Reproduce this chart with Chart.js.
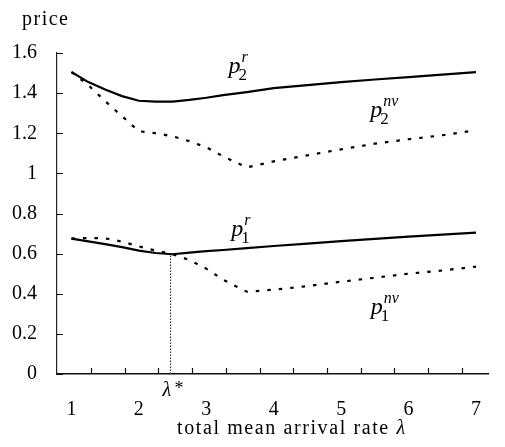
<!DOCTYPE html>
<html><head><meta charset="utf-8">
<script src="https://cdn.jsdelivr.net/npm/chart.js@4"></script>
<style>html,body{margin:0;padding:0;background:#fff}#wrap{width:505px;height:447px;position:relative}</style>
</head><body><div id="wrap"><canvas id="c"></canvas></div>
<script>
// ---- data ----
const lambdaValues = [1, 1.25, 1.5, 1.75, 2, 2.25, 2.5, 2.75, 3, 3.25, 3.6, 4, 4.5, 5, 5.5, 6, 6.5, 7];
const p2r  = [1.505, 1.455, 1.418, 1.385, 1.362, 1.358, 1.358, 1.366, 1.377, 1.39, 1.405, 1.425, 1.44, 1.455, 1.468, 1.48, 1.492, 1.505];
const p2nv = [1.505, 1.44, 1.36, 1.285, 1.21, 1.20, 1.185, 1.16, 1.13, 1.085, 1.03, 1.06, 1.09, 1.12, 1.148, 1.17, 1.19, 1.215];
const p1r  = [0.675, 0.661, 0.647, 0.632, 0.615, 0.603, 0.597, 0.605, 0.612, 0.618, 0.627, 0.638, 0.65, 0.662, 0.674, 0.685, 0.695, 0.705];
const p1nv = [0.675, 0.678, 0.676, 0.66, 0.636, 0.615, 0.597, 0.568, 0.525, 0.47, 0.41, 0.42, 0.438, 0.46, 0.48, 0.50, 0.516, 0.535];
const lambdaStar = 2.47;
const priceAtLambdaStar = 0.597;
const xTickLabels = [1, 2, 3, 4, 5, 6, 7];
const xTickMarks = [1.29, 1.79, 2.29, 2.79, 3.29, 3.79, 4.29, 4.79, 5.29, 5.79, 6.29, 6.79];
const yTickValues = [0, 0.2, 0.4, 0.6, 0.8, 1, 1.2, 1.4, 1.6];
const yTickLabels = ['0', '0.2', '0.4', '0.6', '0.8', '1', '1.2', '1.4', '1.6'];
const curveNames = [['2', 'r'], ['2', 'nv'], ['1', 'r'], ['1', 'nv']];

// ---- styling / placement ----
const labelAnchors = [[3.33, 1.50], [5.43, 1.282], [3.37, 0.687], [5.44, 0.297]];
const FONT = '"Liberation Serif", "Times New Roman", serif';
const pts = ys => lambdaValues.map((x, i) => ({x, y: ys[i]}));

const decor = {
  id: 'decor',
  afterDraw(chart) {
    const ctx = chart.ctx, xs = chart.scales.x, ys = chart.scales.y, a = chart.chartArea;
    ctx.save();
    ctx.strokeStyle = '#111'; ctx.lineWidth = 1.2;
    ctx.beginPath();
    xTickMarks.forEach(v => { const px = Math.round(xs.getPixelForValue(v)) + 0.5; ctx.moveTo(px, a.bottom); ctx.lineTo(px, a.bottom - 6); });
    yTickValues.forEach(v => { const py = Math.round(ys.getPixelForValue(v)) + 0.5; ctx.moveTo(a.left, py); ctx.lineTo(a.left + 6, py); });
    ctx.stroke();

    ctx.fillStyle = '#000';
    ctx.textBaseline = 'alphabetic';
    ctx.textAlign = 'left';
    // price
    ctx.font = '20px ' + FONT;
    ctx.letterSpacing = '1.5px';
    ctx.fillText('price', 22, 25);
    // x title
    ctx.letterSpacing = '1.6px';
    const t = 'total mean arrival rate ';
    ctx.fillText(t, 177, 434);
    const w = ctx.measureText(t).width;
    ctx.font = 'italic 20px ' + FONT;
    ctx.fillText('λ', 177 + w, 434);
    ctx.letterSpacing = '0px';
    // lambda star
    const lx = xs.getPixelForValue(lambdaStar);
    ctx.font = 'italic 20px ' + FONT;
    ctx.fillText('λ', lx - 8, 396);
    ctx.font = '18px ' + FONT;
    ctx.fillText('*', lx + 4, 394);
    // curve labels
    curveNames.forEach((nm, i) => {
      const px = xs.getPixelForValue(labelAnchors[i][0]);
      const py = ys.getPixelForValue(labelAnchors[i][1]);
      ctx.font = 'italic 24px ' + FONT;
      ctx.fillText('p', px, py);
      ctx.font = '17px ' + FONT;
      ctx.fillText(nm[0], px + 10, py + 7);
      ctx.font = 'italic 16px ' + FONT;
      ctx.fillText(nm[1], px + 13, py - 11);
    });
    ctx.restore();
  }
};

const solid = {borderColor: '#000', borderWidth: 2.2, pointRadius: 0, tension: 0, fill: false};
const dotted = {borderColor: '#000', borderWidth: 2.2, borderDash: [3.5, 8], borderCapStyle: 'butt', pointRadius: 0, tension: 0, fill: false};

new Chart(document.getElementById('c'), {
  type: 'line',
  data: {
    datasets: [
      Object.assign({label: 'p2r', data: pts(p2r)}, solid),
      Object.assign({label: 'p2nv', data: pts(p2nv)}, dotted),
      Object.assign({label: 'p1r', data: pts(p1r)}, solid),
      Object.assign({label: 'p1nv', data: pts(p1nv)}, dotted),
      {label: 'lambda*', data: [{x: lambdaStar, y: 0}, {x: lambdaStar, y: priceAtLambdaStar}], borderColor: '#333', borderWidth: 1.2, borderDash: [1.5, 1.5], pointRadius: 0, fill: false}
    ]
  },
  options: {
    responsive: true, maintainAspectRatio: false, animation: false,
    layout: {padding: {top: 53, right: 0, left: 0, bottom: 0}},
    plugins: {legend: {display: false}, tooltip: {enabled: false}},
    scales: {
      x: {
        type: 'linear', min: 0.7857, max: 7.1857,
        grid: {display: false, drawTicks: false},
        border: {display: true, color: '#111', width: 1.5},
        ticks: {font: {family: FONT, size: 20}, color: '#000', padding: 24, maxRotation: 0, autoSkip: false},
        afterBuildTicks: s => { s.ticks = xTickLabels.map(v => ({value: v})); },
        afterFit: s => { s.height = 73; }
      },
      y: {
        type: 'linear', min: 0, max: 1.6,
        grid: {display: false, drawTicks: false},
        border: {display: true, color: '#222', width: 1.2},
        ticks: {font: {family: FONT, size: 20}, color: '#000', padding: 20, callback: (v, i) => yTickLabels[i]},
        afterBuildTicks: s => { s.ticks = yTickValues.map(v => ({value: v})); },
        afterFit: s => { s.width = 57; }
      }
    }
  },
  plugins: [decor]
});
</script>
</body></html>
